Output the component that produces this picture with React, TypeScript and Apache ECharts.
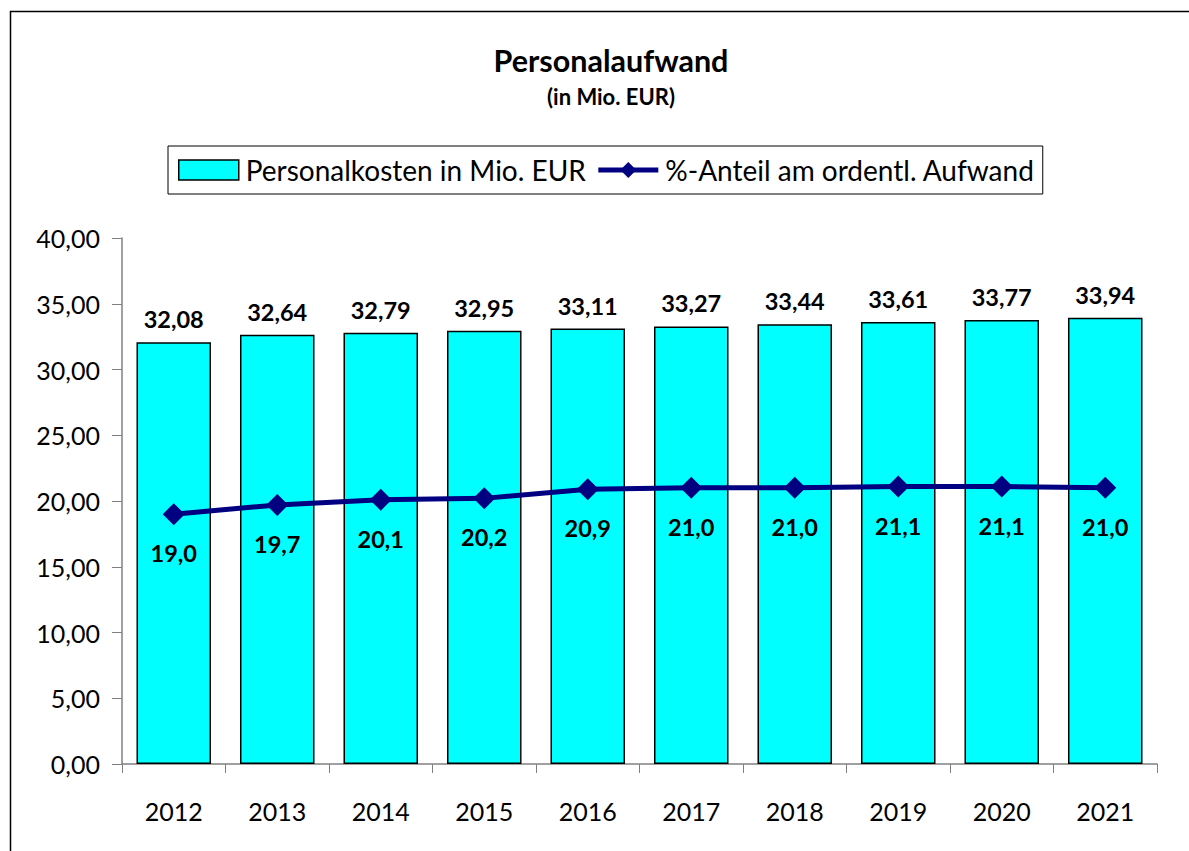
import React, { useEffect, useRef } from "react";
import * as echarts from "echarts";

const years = ["2012", "2013", "2014", "2015", "2016", "2017", "2018", "2019", "2020", "2021"];
const personalkosten = [32.08, 32.64, 32.79, 32.95, 33.11, 33.27, 33.44, 33.61, 33.77, 33.94];
const anteil = [19.0, 19.7, 20.1, 20.2, 20.9, 21.0, 21.0, 21.1, 21.1, 21.0];
const titleText = "Personalaufwand";
const subtitleText = "(in Mio. EUR)";
const barName = "Personalkosten in Mio. EUR";
const lineName = "%-Anteil am ordentl. Aufwand";

const FONT = "Lato, 'Open Sans', sans-serif";

export default function App() {
  const ref = useRef<HTMLDivElement>(null);
  useEffect(() => {
    document.body.style.margin = "0";
    const chart = echarts.init(ref.current!, null, { renderer: "svg" });
    chart.setOption({
      animation: false,
      backgroundColor: "#ffffff",
      textStyle: { fontFamily: FONT },
      graphic: [
        {
          type: "rect",
          shape: { x: 10.5, y: 11.5, width: 1190, height: 850 },
          style: { fill: "none", stroke: "#000", lineWidth: 1.5 },
          silent: true,
        },
      ],
      title: {
        text: titleText,
        subtext: subtitleText,
        left: 606,
        textAlign: "center",
        top: 39,
        itemGap: 10,
        textStyle: { fontFamily: FONT, fontSize: 30.5, fontWeight: "bold", color: "#000" },
        subtextStyle: { fontFamily: FONT, fontSize: 22, fontWeight: "bold", color: "#000" },
      },
      legend: {
        top: 146,
        left: 168,
        padding: [10, 8, 10, 10],
        borderColor: "#000",
        borderWidth: 1,
        itemWidth: 60,
        itemHeight: 20,
        itemGap: 10,
        textStyle: { fontFamily: FONT, fontSize: 28, color: "#000", padding: [0, 0, 0, 2] },
        data: [
          { name: barName, icon: "rect", itemStyle: { color: "#00ffff", borderColor: "#000", borderWidth: 1.5 } },
          { name: lineName, lineStyle: { width: 5, color: "#000080" } },
        ],
      },
      grid: { left: 122, right: 32, top: 238, bottom: 87, containLabel: false },
      xAxis: {
        type: "category",
        data: years,
        axisLine: { lineStyle: { color: "#808080", width: 1.5 } },
        axisTick: { show: true, length: 9, lineStyle: { color: "#808080" } },
        axisLabel: { fontFamily: FONT, fontSize: 25, color: "#000", margin: 34 },
      },
      yAxis: {
        type: "value",
        min: 0,
        max: 40,
        interval: 5,
        splitLine: { show: false },
        axisLine: { show: true, lineStyle: { color: "#808080", width: 1.5 } },
        axisTick: { show: true, length: 10, lineStyle: { color: "#808080" } },
        axisLabel: {
          fontFamily: FONT,
          fontSize: 25,
          color: "#000",
          margin: 22,
          formatter: (v: number) => v.toFixed(2).replace(".", ","),
        },
      },
      series: [
        {
          name: barName,
          type: "bar",
          data: personalkosten,
          barCategoryGap: "28%",
          itemStyle: { color: "#00ffff", borderColor: "#000", borderWidth: 1.5 },
          label: {
            show: true,
            position: "top",
            distance: 11,
            fontFamily: FONT,
            fontSize: 23.5,
            fontWeight: "bold",
            color: "#000",
            formatter: (p: any) => p.value.toFixed(2).replace(".", ","),
          },
        },
        {
          name: lineName,
          type: "line",
          data: anteil,
          symbol: "diamond",
          symbolSize: 22,
          lineStyle: { color: "#000080", width: 5 },
          itemStyle: { color: "#000080" },
          label: {
            show: true,
            position: "bottom",
            distance: 16,
            fontFamily: FONT,
            fontSize: 23.5,
            fontWeight: "bold",
            color: "#000",
            formatter: (p: any) => p.value.toFixed(1).replace(".", ","),
          },
        },
      ],
    });
    return () => chart.dispose();
  }, []);
  return <div ref={ref} style={{ width: 1189, height: 851 }} />;
}
